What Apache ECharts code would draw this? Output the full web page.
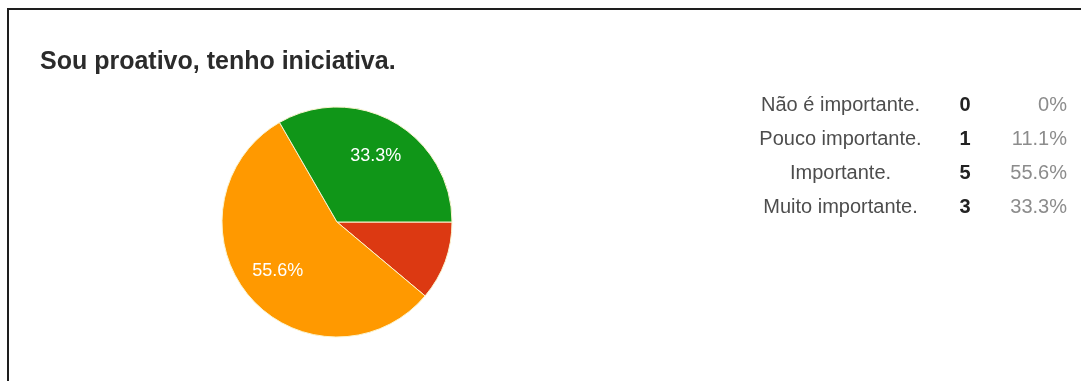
<!DOCTYPE html>
<html>
<head>
<meta charset="utf-8">
<title>Sou proativo, tenho iniciativa.</title>
<script src="https://cdn.jsdelivr.net/npm/echarts@6/dist/echarts.min.js"></script>
<style>
  html, body { margin: 0; padding: 0; background: #fff; }
  #chart { width: 1081px; height: 381px; }
</style>
</head>
<body>
<div id="chart"></div>
<script>
// respostas (ordem da legenda)
var categories = ["Não é importante.", "Pouco importante.", "Importante.", "Muito importante."];
var counts = [0, 1, 5, 3];
var percentLabels = ["0%", "11.1%", "55.6%", "33.3%"];
var sliceColors = ["#3366cc", "#dc3912", "#ff9900", "#109618"];

var pieCenter = [337, 222];

var chartDom = document.getElementById("chart");
var myChart = echarts.init(chartDom);

var pieData = categories.map(function (name, i) {
  return { name: name, value: counts[i], itemStyle: { color: sliceColors[i] } };
});

var font = "Liberation Sans, Arial, sans-serif";

var option = {
  animation: false,
  backgroundColor: "#fff",
  title: {
    text: "Sou proativo, tenho iniciativa.",
    left: 40,
    top: 50,
    padding: 0,
    textStyle: {
      fontFamily: font,
      fontSize: 25,
      fontWeight: "bold",
      color: "#2b2b2b"
    }
  },
  legend: {
    orient: "vertical",
    left: 743,
    top: 89,
    icon: "none",
    itemWidth: 0,
    itemHeight: 22,
    itemGap: 13,
    selectedMode: false,
    data: categories,
    formatter: function (name) {
      var i = categories.indexOf(name);
      return "{lab|" + name + "}{cnt|" + counts[i] + "}{pct|" + percentLabels[i] + "}";
    },
    textStyle: {
      fontFamily: font,
      fontSize: 20,
      rich: {
        lab: { width: 175, align: "right", color: "#4d4d4d", fontSize: 20, lineHeight: 22, fontFamily: font },
        cnt: { width: 74, align: "center", color: "#222", fontSize: 20, fontWeight: "bold", lineHeight: 22, fontFamily: font },
        pct: { width: 65, align: "right", color: "#8c8c8c", fontSize: 20, lineHeight: 22, fontFamily: font }
      }
    }
  },
  graphic: [
    {
      type: "polyline",
      silent: true,
      shape: { points: [[8, 381], [8, 9], [1081, 9]] },
      style: { stroke: "#1e1e1e", lineWidth: 2, fill: null }
    }
  ],
  series: [
    {
      type: "pie",
      center: pieCenter,
      radius: 115,
      startAngle: 0,
      clockwise: true,
      avoidLabelOverlap: false,
      itemStyle: { borderColor: "#fbf4cf", borderWidth: 1 },
      label: {
        position: "inside",
        color: "#fff",
        fontSize: 18,
        fontFamily: font,
        formatter: function (p) {
          return p.percent >= 20 ? p.percent.toFixed(1) + "%" : "";
        }
      },
      labelLayout: function (p) {
        // empurra o rótulo um pouco para fora, como no gráfico original
        var lx = p.labelRect.x + p.labelRect.width / 2;
        var ly = p.labelRect.y + p.labelRect.height / 2;
        return { dx: (lx - pieCenter[0]) * 0.28, dy: (ly - pieCenter[1]) * 0.25 };
      },
      emphasis: { disabled: true },
      data: pieData
    }
  ]
};

option && myChart.setOption(option);
</script>
</body>
</html>
